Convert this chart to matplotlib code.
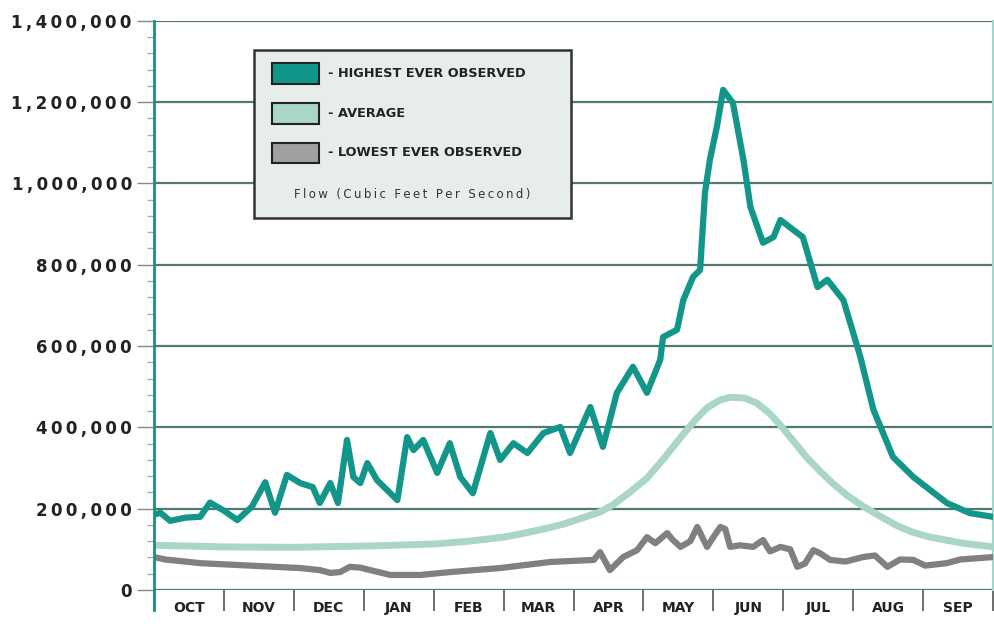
#!/usr/bin/env python
# -*- coding: utf-8 -*-

import numpy as np
import matplotlib
matplotlib.use('Agg')
import matplotlib.pyplot as plt
from matplotlib.patches import Rectangle

# water year months, x = months since Oct 1
months = ['OCT', 'NOV', 'DEC', 'JAN', 'FEB', 'MAR',
          'APR', 'MAY', 'JUN', 'JUL', 'AUG', 'SEP']

# highest ever observed (cfs, thousands)
hi_x = [0.00, 0.09, 0.23, 0.45, 0.66, 0.80, 1.00, 1.19, 1.40, 1.59, 1.73, 1.90,
        2.09, 2.27, 2.37, 2.52, 2.63, 2.76, 2.85, 2.95, 3.05, 3.19, 3.38, 3.48,
        3.62, 3.71, 3.85, 4.05, 4.23, 4.38, 4.56, 4.81, 4.95, 5.14, 5.34, 5.57,
        5.81, 5.95, 6.24, 6.42, 6.62, 6.85, 7.05, 7.24, 7.28, 7.48, 7.57, 7.71,
        7.81, 7.88, 7.95, 8.05, 8.14, 8.28, 8.43, 8.53, 8.71, 8.86, 8.96, 9.14,
        9.28, 9.43, 9.49, 9.63, 9.86, 10.10, 10.29, 10.57, 10.86, 11.34, 11.67,
        12.00]
hi_y = [185, 190, 170, 178, 180, 215, 195, 172, 205, 265, 190, 283,
        263, 253, 214, 263, 214, 369, 278, 263, 312, 270, 238, 221,
        376, 344, 369, 288, 361, 278, 238, 386, 320, 361, 337, 386,
        401, 337, 450, 352, 485, 549, 485, 566, 622, 640, 713, 770,
        787, 977, 1058, 1139, 1230, 1198, 1058, 942, 854, 868, 910, 886,
        868, 780, 745, 763, 713, 575, 443, 327, 278, 214, 189,
        180]

# average flow
avg_x = [0.0, 1.0, 2.0, 3.0, 4.0, 4.5, 5.0, 5.3, 5.62, 5.85, 6.09, 6.38, 6.57,
         6.8, 7.05, 7.3, 7.53, 7.75, 7.91, 8.08, 8.24, 8.45, 8.62, 8.8, 8.96,
         9.15, 9.34, 9.55, 9.71, 9.92, 10.14, 10.4, 10.63, 10.85, 11.1, 11.57,
         12.0]
avg_y = [110, 106, 105, 108, 113, 120, 130, 140, 152, 162, 175, 192, 210,
         240, 275, 325, 375, 420, 448, 466, 474, 472, 460, 435, 405,
         365, 325, 288, 262, 232, 206, 180, 158, 142, 130, 115, 106]

# lowest ever observed
lo_x = [0.00, 0.16, 0.66, 1.37, 2.09, 2.37, 2.52, 2.66, 2.80, 2.95, 3.09, 3.38,
        3.81, 4.23, 4.95, 5.67, 6.29, 6.38, 6.52, 6.71, 6.91, 7.05, 7.17, 7.34,
        7.41, 7.53, 7.67, 7.77, 7.91, 8.00, 8.10, 8.17, 8.24, 8.38, 8.57, 8.71,
        8.81, 8.96, 9.10, 9.20, 9.31, 9.43, 9.53, 9.67, 9.89, 10.14, 10.31,
        10.49, 10.67, 10.86, 11.03, 11.34, 11.53, 12.00]
lo_y = [81, 75, 66, 60, 54, 49, 42, 44, 57, 55, 49, 37,
        37, 44, 54, 69, 74, 93, 49, 81, 98, 130, 115, 140,
        125, 106, 120, 155, 106, 130, 155, 150, 106, 110, 106, 123,
        95, 106, 100, 57, 65, 98, 90, 74, 70, 81, 85,
        57, 75, 74, 60, 66, 75, 81]

yticks = [0, 200000, 400000, 600000, 800000, 1000000, 1200000, 1400000]

teal = '#13968a'
avg_col = '#a9d6c6'
low_col = '#808080'
grid_col = '#4d7a73'

fig = plt.figure(figsize=(9.94, 6.29), dpi=100)
ax = fig.add_axes([0.155, 0.062, 0.844, 0.905])

ax.plot(lo_x, np.array(lo_y) * 1000, color=low_col, lw=4.5, zorder=3,
        solid_joinstyle='round')
ax.plot(avg_x, np.array(avg_y) * 1000, color=avg_col, lw=5.0, zorder=3,
        solid_joinstyle='round')
ax.plot(hi_x, np.array(hi_y) * 1000, color=teal, lw=4.5, zorder=4,
        solid_joinstyle='round')

ax.set_xlim(0, 12)
ax.set_ylim(0, 1400000)

for v in yticks:
    ax.axhline(v, color=grid_col, lw=1.6, zorder=2)

tsp = '\u2009'
ax.set_yticks(yticks)
ax.set_yticklabels([tsp.join('{:,}'.format(v)) for v in yticks],
                   fontsize=12, fontweight='bold', color='#222222')
ax.set_yticks(np.arange(0, 1400001, 40000), minor=True)
ax.tick_params(axis='y', which='major', length=12, width=1, color='#888888',
               pad=4, direction='out')
ax.tick_params(axis='y', which='minor', length=5, width=1, color='#aaaaaa',
               direction='out')

ax.set_xticks(np.arange(0, 13))
ax.set_xticklabels([''] * 13)
ax.set_xticks(np.arange(0.5, 12), minor=True)
ax.set_xticklabels(months, minor=True, fontsize=10, fontweight='bold',
                   color='#222222')
ax.tick_params(axis='x', which='major', length=15, width=1.2, color='#555555',
               direction='out')
ax.tick_params(axis='x', which='minor', length=0, pad=8)

for s in ['top', 'bottom']:
    ax.spines[s].set_visible(False)
ax.spines['left'].set_color('#1a8f80')
ax.spines['left'].set_linewidth(2)
ax.spines['left'].set_bounds(-50000, 1400000)
ax.spines['left'].set_zorder(5)
ax.spines['right'].set_color('#9fd8cc')
ax.spines['right'].set_linewidth(1.5)

# legend box
ax.add_patch(Rectangle((0.119, 0.654), 0.378, 0.295, transform=ax.transAxes,
                       facecolor='#e7eeea', edgecolor='#333333', lw=1.8,
                       zorder=6))
entries = [(teal, '- HIGHEST EVER OBSERVED'),
           (avg_col, '- AVERAGE'),
           ('#a0a0a0', '- LOWEST EVER OBSERVED')]
for i, (c, lab) in enumerate(entries):
    yc = 0.907 - i * 0.0695
    ax.add_patch(Rectangle((0.141, yc - 0.018), 0.055, 0.036,
                           transform=ax.transAxes, facecolor=c,
                           edgecolor='#222222', lw=1.5, zorder=7))
    ax.text(0.207, yc, lab, transform=ax.transAxes, fontsize=9.3,
            fontweight='bold', color='#222222', va='center', ha='left',
            zorder=8)
ax.text(0.308, 0.694, tsp.join('Flow (Cubic Feet Per Second)'),
        transform=ax.transAxes, fontsize=8.5, color='#333333',
        va='center', ha='center', zorder=8)

fig.savefig('out.png', dpi=100)
